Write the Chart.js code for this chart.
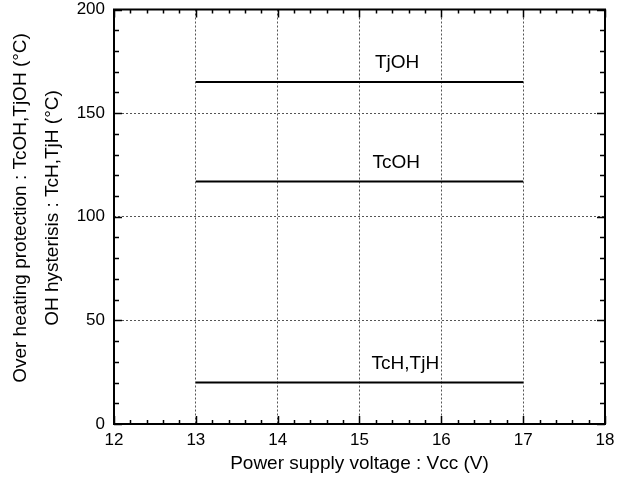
<!DOCTYPE html>
<html>
<head>
<meta charset="utf-8">
<script src="https://cdn.jsdelivr.net/npm/chart.js@4/dist/chart.umd.min.js"></script>
<style>
  html, body { margin: 0; padding: 0; background: #fff; }
  #wrap { width: 619px; height: 479px; }
</style>
</head>
<body>
<div id="wrap"><canvas id="ohChart"></canvas></div>
<script>
// Over heating protection vs supply voltage
const voltage = [13, 17];
const tjOH = [165, 165];
const tcOH = [117, 117];
const tcHtjH = [20, 20];

const seriesNames = ['TjOH', 'TcOH', 'TcH,TjH'];
const seriesValues = [tjOH, tcOH, tcHtjH];
const labelAt = [15.46, 15.45, 15.56]; // x value where the name sits

const xTicks = [12, 13, 14, 15, 16, 17, 18];
const yTicks = [0, 50, 100, 150, 200];
const yTitle = ['Over heating protection : TcOH,TjOH (°C)', 'OH hysterisis : TcH,TjH (°C)'];

const FONT = 'Liberation Sans, Arial, sans-serif';

// frame, inward ticks, y title and series names
const framePlugin = {
  id: 'frame',
  afterDraw(chart) {
    const { ctx, chartArea: a, scales: { x, y } } = chart;
    ctx.save();
    ctx.strokeStyle = '#000';
    ctx.lineWidth = 2;
    ctx.strokeRect(a.left, a.top, a.right - a.left, a.bottom - a.top);

    ctx.lineWidth = 1.5;
    ctx.beginPath();
    for (let v = x.min; v <= x.max + 1e-9; v += 0.2) {
      const px = Math.round(x.getPixelForValue(v)) + 0.5;
      const major = Math.abs(v - Math.round(v)) < 1e-6;
      const len = major ? 8 : 4;
      ctx.moveTo(px, a.bottom); ctx.lineTo(px, a.bottom - len);
      ctx.moveTo(px, a.top); ctx.lineTo(px, a.top + len);
    }
    for (let v = y.min; v <= y.max + 1e-9; v += 10) {
      const py = Math.round(y.getPixelForValue(v)) + 0.5;
      const major = v % 50 === 0;
      const len = major ? 8 : 5;
      ctx.moveTo(a.left, py); ctx.lineTo(a.left + len, py);
      ctx.moveTo(a.right, py); ctx.lineTo(a.right - len, py);
    }
    ctx.stroke();

    ctx.fillStyle = '#000';
    ctx.font = '19px ' + FONT;
    ctx.textAlign = 'center';
    ctx.textBaseline = 'middle';
    seriesNames.forEach((name, i) => {
      const px = x.getPixelForValue(labelAt[i]);
      const py = y.getPixelForValue(seriesValues[i][0]) - 19;
      ctx.fillText(name, px, py);
    });

    // two-line y title, rotated
    ctx.save();
    ctx.translate(21, 208);
    ctx.rotate(-Math.PI / 2);
    ctx.fillText(yTitle[0], 0, 0);
    ctx.fillText(yTitle[1], 0, 32);
    ctx.restore();
    ctx.restore();
  }
};

new Chart(document.getElementById('ohChart'), {
  type: 'line',
  data: {
    datasets: seriesValues.map((vals, i) => ({
      label: seriesNames[i],
      data: voltage.map((v, j) => ({ x: v, y: vals[j] })),
      borderColor: '#000',
      borderWidth: 2,
      pointRadius: 0,
      fill: false
    }))
  },
  options: {
    responsive: true,
    maintainAspectRatio: false,
    animation: false,
    layout: { padding: { top: 9.5, right: 14, left: 0, bottom: 0 } },
    plugins: {
      legend: { display: false },
      tooltip: { enabled: false }
    },
    scales: {
      x: {
        type: 'linear',
        min: 12,
        max: 18,
        afterBuildTicks(scale) { scale.ticks = xTicks.map(v => ({ value: v })); },
        afterFit(scale) { scale.height = 55; scale.paddingLeft = 0; scale.paddingRight = 0; },
        grid: { color: '#555', lineWidth: 1, drawTicks: false },
        border: { display: false, dash: [2, 2] },
        ticks: { color: '#000', padding: 6, font: { family: FONT, size: 17 } },
        title: {
          display: true,
          text: 'Power supply voltage : Vcc (V)',
          color: '#000',
          font: { family: FONT, size: 19, lineHeight: 1.2 },
          padding: { top: 0, bottom: 4 }
        }
      },
      y: {
        min: 0,
        max: 200,
        afterBuildTicks(scale) { scale.ticks = yTicks.map(v => ({ value: v })); },
        afterFit(scale) { scale.width = 114; scale.paddingTop = 0; scale.paddingBottom = 0; },
        grid: { color: '#555', lineWidth: 1, drawTicks: false },
        border: { display: false, dash: [2, 2] },
        ticks: { color: '#000', padding: 9, font: { family: FONT, size: 17 } }
      }
    }
  },
  plugins: [framePlugin]
});
</script>
</body>
</html>
